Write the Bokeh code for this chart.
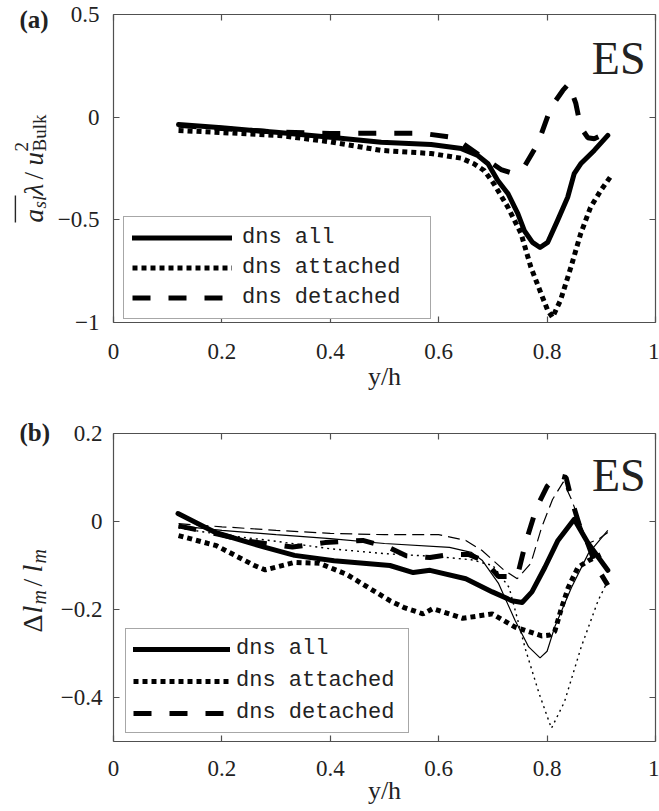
import math
from bokeh.plotting import figure
from bokeh.models import (Range1d, LinearAxis, FixedTicker, Label, Legend,
                          LegendItem, BoxAnnotation)
from bokeh.layouts import column, row
from bokeh.embed import file_html
from bokeh.resources import INLINE

# ---------------- data: panel (a) ----------------
a_all_x = [0.12, 0.20, 0.30, 0.40, 0.494, 0.586, 0.642, 0.672, 0.691, 0.709, 0.728,
           0.746, 0.758, 0.773, 0.787, 0.801, 0.819, 0.838, 0.85, 0.862, 0.887, 0.912]
a_all_y = [-0.036, -0.052, -0.074, -0.098, -0.122, -0.133, -0.153, -0.187, -0.227, -0.308,
           -0.373, -0.47, -0.553, -0.61, -0.635, -0.61, -0.505, -0.39, -0.275, -0.227,
           -0.162, -0.089]
a_att_x = [0.12, 0.20, 0.305, 0.40, 0.494, 0.586, 0.642, 0.665, 0.684, 0.702, 0.728,
           0.752, 0.77, 0.789, 0.801, 0.81, 0.825, 0.844, 0.862, 0.88, 0.899, 0.917]
a_att_y = [-0.065, -0.075, -0.089, -0.12, -0.162, -0.177, -0.20, -0.227, -0.26, -0.325,
           -0.44, -0.567, -0.73, -0.86, -0.94, -0.975, -0.89, -0.73, -0.567, -0.44,
           -0.357, -0.29]
a_det_x = [0.12, 0.20, 0.30, 0.40, 0.494, 0.568, 0.629, 0.672, 0.69, 0.715, 0.733,
           0.757, 0.783, 0.807, 0.829, 0.84, 0.853, 0.862, 0.875, 0.887, 0.912]
a_det_y = [-0.04, -0.055, -0.072, -0.08, -0.078, -0.078, -0.10, -0.18, -0.21, -0.255,
           -0.27, -0.245, -0.128, 0.047, 0.13, 0.163, 0.067, -0.049, -0.10, -0.105, -0.075]

# ---------------- data: panel (b) ----------------
b_all_x = [0.119, 0.188, 0.28, 0.334, 0.407, 0.51, 0.553, 0.584, 0.65, 0.699, 0.735,
           0.754, 0.772, 0.796, 0.82, 0.85, 0.876, 0.912]
b_all_y = [0.018, -0.025, -0.059, -0.077, -0.089, -0.10, -0.116, -0.111, -0.13, -0.16,
           -0.18, -0.184, -0.16, -0.104, -0.043, 0.005, -0.05, -0.111]
b_att_x = [0.12, 0.19, 0.26, 0.28, 0.334, 0.38, 0.43, 0.51, 0.535, 0.571, 0.589, 0.644,
           0.699, 0.741, 0.79, 0.805, 0.814, 0.827, 0.839, 0.857, 0.876, 0.90]
b_att_y = [-0.032, -0.055, -0.10, -0.11, -0.093, -0.095, -0.12, -0.18, -0.195, -0.21,
           -0.198, -0.22, -0.21, -0.24, -0.26, -0.258, -0.25, -0.195, -0.15, -0.104,
           -0.089, -0.075]
b_det_x = [0.12, 0.19, 0.25, 0.33, 0.39, 0.46, 0.51, 0.54, 0.584, 0.62, 0.655, 0.686,
           0.71, 0.745, 0.76, 0.78, 0.80, 0.82, 0.835, 0.845, 0.86, 0.875, 0.89, 0.912]
b_det_y = [-0.01, -0.028, -0.045, -0.058, -0.048, -0.043, -0.06, -0.078, -0.082, -0.075,
           -0.075, -0.09, -0.125, -0.125, -0.05, 0.03, 0.08, 0.105, 0.10, 0.05, -0.01,
           -0.05, -0.10, -0.145]
# thin (model) curves in panel (b)
bm_all_x = [0.12, 0.2, 0.3, 0.4, 0.5, 0.62, 0.66, 0.68, 0.71, 0.741, 0.766, 0.787, 0.80,
            0.814, 0.845, 0.876, 0.912]
bm_all_y = [-0.01, -0.02, -0.03, -0.039, -0.05, -0.059, -0.07, -0.088, -0.14, -0.225,
            -0.285, -0.31, -0.295, -0.24, -0.15, -0.073, -0.02]
bm_att_x = [0.12, 0.2, 0.3, 0.4, 0.5, 0.6, 0.66, 0.70, 0.73, 0.76, 0.785, 0.808, 0.832,
            0.863, 0.894, 0.912]
bm_att_y = [-0.015, -0.03, -0.045, -0.062, -0.073, -0.08, -0.087, -0.10, -0.15, -0.29,
            -0.39, -0.47, -0.41, -0.285, -0.18, -0.135]
bm_det_x = [0.12, 0.2, 0.3, 0.4, 0.5, 0.6, 0.65, 0.68, 0.72, 0.745, 0.77, 0.79, 0.81,
            0.83, 0.845, 0.86, 0.875, 0.895, 0.912]
bm_det_y = [-0.005, -0.012, -0.02, -0.027, -0.03, -0.03, -0.043, -0.066, -0.11, -0.13,
            -0.095, -0.013, 0.05, 0.09, 0.05, 0.0, -0.05, -0.04, -0.025]

# ---------------- ticks / labels ----------------
x_ticks = [0, 0.2, 0.4, 0.6, 0.8, 1]
x_tick_labels = ["0", "0.2", "0.4", "0.6", "0.8", "1"]
a_y_ticks = [-1, -0.5, 0, 0.5]
a_y_tick_labels = ["\u22121", "\u22120.5", "0", "0.5"]
b_y_ticks = [-0.4, -0.2, 0, 0.2]
b_y_tick_labels = ["\u22120.4", "\u22120.2", "0", "0.2"]
legend_labels = ["dns all", "dns attached", "dns detached"]
x_label = "y/h"
panel_tags = ["(a)", "(b)"]
case_tag = "ES"

AX = "#505050"
TXT = "#222222"
SERIF = "Liberation Serif"
LW = 5
HA = 400
HB = 411


def make_fig(h, bl, bt, bb, yr, yt, ytl, ystand, xstand, lstand):
    p = figure(width=605, height=h, x_range=Range1d(0, 1), y_range=Range1d(*yr),
               output_backend="svg", toolbar_location=None, x_axis_type=None,
               y_axis_type=None, min_border_left=bl, min_border_right=4,
               min_border_top=bt, min_border_bottom=bb)
    p.outline_line_color = None
    p.background_fill_color = "white"
    p.border_fill_color = "white"
    for loc in ["below", "above", "left", "right"]:
        horiz = loc in ("below", "above")
        ticks = x_ticks if horiz else yt
        labs = x_tick_labels if horiz else ytl
        ax = LinearAxis(ticker=FixedTicker(ticks=ticks, minor_ticks=[]))
        ax.axis_line_color = AX
        ax.axis_line_width = 1.2
        ax.major_tick_line_color = AX
        ax.major_tick_line_width = 1.2
        ax.major_tick_in = 6
        ax.major_tick_out = 0
        ax.minor_tick_line_color = None
        if loc in ("below", "left"):
            ax.major_label_overrides = {t: s for t, s in zip(ticks, labs)}
            ax.major_label_text_font = SERIF
            ax.major_label_text_font_size = "23px"
            ax.major_label_text_color = TXT
            ax.major_label_standoff = xstand if horiz else ystand
            if loc == "below":
                ax.axis_label = x_label
                ax.axis_label_text_font = SERIF
                ax.axis_label_text_font_style = "normal"
                ax.axis_label_text_font_size = "26px"
                ax.axis_label_text_color = TXT
                ax.axis_label_standoff = lstand
        else:
            ax.major_label_text_font_size = "0px"
            ax.major_label_text_color = None
            ax.major_label_standoff = 0
        p.add_layout(ax, loc)
    return p


def rot_label(q, pieces, bx, y0):
    cur = y0
    for text, size, style, shift, adv in pieces:
        q.add_layout(Label(x=bx + shift, y=cur, text=text, angle=math.pi / 2,
                           text_align="left", text_baseline="alphabetic",
                           text_font=SERIF, text_font_size=f"{size}px",
                           text_font_style=style, text_color=TXT))
        cur -= adv


# ---------------- panel (a) ----------------
pa = make_fig(HA, 57, 14, 78, (-1, 0.5), a_y_ticks, a_y_tick_labels, 14, 21, 0)
xa = lambda px: (px - 111) / 544.0
ya = lambda py: 0.5 - (py - 14) / 308.0 * 1.5

ra1 = pa.line(a_all_x, a_all_y, line_color="black", line_width=LW,
              line_cap="round", line_join="round")
ra2 = pa.line(a_att_x, a_att_y, line_color="black", line_width=LW, line_dash="5 4")
ra3 = pa.line(a_det_x, a_det_y, line_color="black", line_width=LW, line_dash="18 18")

leg_a = Legend(items=[LegendItem(label=legend_labels[0], renderers=[ra1]),
                      LegendItem(label=legend_labels[1], renderers=[ra2]),
                      LegendItem(label=legend_labels[2], renderers=[ra3])],
               location=(10, 3), label_text_font="Liberation Mono",
               label_text_font_size="22px", label_text_color=TXT,
               glyph_width=100, glyph_height=25, label_height=25, label_width=180,
               label_standoff=10, padding=8, spacing=5, margin=0,
               border_line_color=AX, border_line_width=1.2,
               background_fill_color="white", background_fill_alpha=1.0)
pa.add_layout(leg_a, "center")
pa.add_layout(Label(x=xa(645), y=ya(58), text=case_tag, text_font=SERIF,
                    text_font_size="46px", text_color=TXT, text_align="right",
                    text_baseline="alphabetic"))

# ---------------- panel (b) ----------------
pb = make_fig(HB, 53, 33, 70, (-0.5, 0.2), b_y_ticks, b_y_tick_labels, 11, 19, -3)
xb = lambda px: (px - 107) / 548.0
yb = lambda py: 0.2 - (py - 433) / 308.0 * 0.7

rb1 = pb.line(b_all_x, b_all_y, line_color="black", line_width=LW,
              line_cap="round", line_join="round")
rb2 = pb.line(b_att_x, b_att_y, line_color="black", line_width=LW, line_dash="5 4")
rb3 = pb.line(b_det_x, b_det_y, line_color="black", line_width=LW, line_dash="18 18")
pb.line(bm_all_x, bm_all_y, line_color="black", line_width=1.2)
pb.line(bm_att_x, bm_att_y, line_color="black", line_width=1.4, line_dash="2 4")
pb.line(bm_det_x, bm_det_y, line_color="black", line_width=1.2, line_dash="12 6")

leg_b = Legend(items=[LegendItem(label=legend_labels[0], renderers=[rb1]),
                      LegendItem(label=legend_labels[1], renderers=[rb2]),
                      LegendItem(label=legend_labels[2], renderers=[rb3])],
               location=(12, 8), label_text_font="Liberation Mono",
               label_text_font_size="22px", label_text_color=TXT,
               glyph_width=97, glyph_height=24, label_height=24, label_width=165,
               label_standoff=6, padding=7, spacing=7, margin=0,
               border_line_color=AX, border_line_width=1.2,
               background_fill_color="white", background_fill_alpha=1.0)
pb.add_layout(leg_b, "center")
pb.add_layout(Label(x=xb(645), y=yb(475), text=case_tag, text_font=SERIF,
                    text_font_size="46px", text_color=TXT, text_align="right",
                    text_baseline="alphabetic"))

# ---------------- left strip holding the y-axis titles and panel tags ----------------
HT = HA + HB
lab = figure(width=54, height=HT, x_range=Range1d(0, 54), y_range=Range1d(HT, 0),
             output_backend="svg", toolbar_location=None, x_axis_type=None,
             y_axis_type=None, min_border=0)
lab.outline_line_color = None
lab.background_fill_color = "white"
lab.border_fill_color = "white"

rot_label(lab, [("a", 27, "italic", 0, 14), ("sl", 19, "italic", 6, 13),
                ("\u03bb", 27, "italic", 0, 16), ("/", 27, "normal", 0, 14),
                ("u", 27, "italic", 0, 14), ("2", 19, "normal", -12, 0),
                ("Bulk", 19, "normal", 6, 38)], 33, 222)
lab.add_layout(BoxAnnotation(left=14.2, right=15.6, top=195, bottom=222,
                             fill_color="black", fill_alpha=0.85, line_color=None))
lab.add_layout(Label(x=19, y=19, text=panel_tags[0], text_font=SERIF,
                     text_font_style="bold", text_font_size="25px", text_color=TXT,
                     text_align="left", text_baseline="middle"))
rot_label(lab, [("\u0394", 28, "normal", 0, 19), ("l", 28, "italic", 0, 9),
                ("m", 20, "italic", 6, 18), ("/", 28, "normal", 0, 14),
                ("l", 28, "italic", 0, 9), ("m", 20, "italic", 6, 15)], 32, 632)
lab.add_layout(Label(x=19, y=432, text=panel_tags[1], text_font=SERIF,
                     text_font_style="bold", text_font_size="25px", text_color=TXT,
                     text_align="left", text_baseline="middle"))

layout = row(lab, column(pa, pb))
open("out.html", "w").write(file_html(layout, INLINE))
